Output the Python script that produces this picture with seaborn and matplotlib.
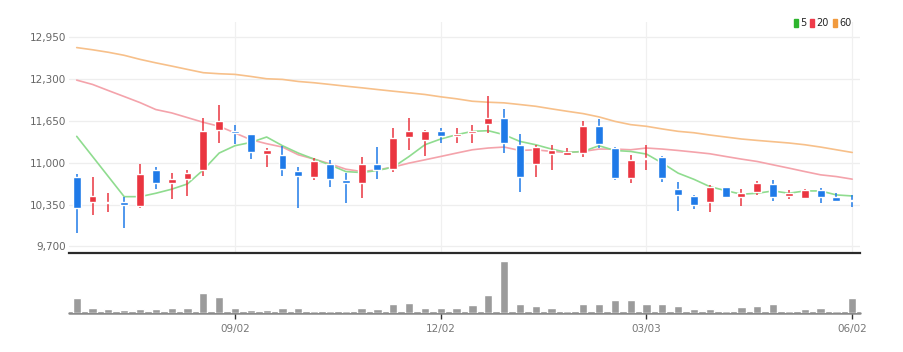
import numpy as np
import pandas as pd
import matplotlib
matplotlib.use('Agg')
import matplotlib.pyplot as plt
import seaborn as sns
from matplotlib.patches import Patch

# weekly candles, first week 2024-06-24
dates = pd.date_range('2024-06-24', periods=50, freq='7D')

opens = [10785, 10395, 10380, 10386, 10333, 10889, 10692, 10745, 10889, 11502,
         11497, 11440, 11134, 11123, 10879, 10785, 10983, 10734, 10692, 10978,
         10900, 11404, 11357, 11497, 11409, 11461, 11602, 11696, 11279, 10983,
         11139, 11123, 11150, 11565, 11228, 10770, 11056, 11088, 10589, 10489,
         10395, 10620, 10473, 10551, 10671, 10489, 10458, 10578, 10473, 10422]
highs = [10827, 10785, 10536, 10464, 10978, 10932, 10838, 10889, 11695, 11892,
         11591, 11451, 11228, 11264, 10932, 11072, 11045, 10838, 11081, 11243,
         11540, 11695, 11510, 11540, 11540, 11591, 12043, 11840, 11451, 11279,
         11279, 11228, 11642, 11680, 11243, 11123, 11279, 11097, 10707, 10500,
         10656, 10629, 10589, 10723, 10734, 10578, 10589, 10604, 10536, 10500]
lows = [9912, 10188, 10240, 9990, 10292, 10589, 10433, 10484, 10796, 11306,
        11295, 11056, 10932, 10796, 10292, 10734, 10629, 10380, 10448, 10745,
        10858, 11201, 11097, 11306, 11306, 11306, 11462, 11150, 10551, 10785,
        10889, 11097, 11087, 11228, 10734, 10682, 10889, 10707, 10255, 10277,
        10230, 10448, 10333, 10500, 10411, 10433, 10443, 10380, 10400, 10318]
closes = [10292, 10484, 10395, 10339, 10827, 10687, 10745, 10838, 11487, 11642,
          11455, 11159, 11190, 10900, 10796, 11034, 10749, 10692, 10983, 10889,
          11384, 11497, 11497, 11409, 11440, 11497, 11696, 11306, 10785, 11237,
          11190, 11159, 11565, 11290, 10770, 11045, 11072, 10760, 10500, 10344,
          10620, 10464, 10536, 10682, 10473, 10526, 10578, 10473, 10411, 10402]

# moving averages as drawn (history before first week not shown)
ma5 = [11409, 11097, 10785, 10473, 10473, 10526, 10589, 10671, 10889, 11150,
       11264, 11315, 11399, 11264, 11150, 11056, 10967, 10863, 10847, 10879,
       10932, 11097, 11279, 11368, 11435, 11487, 11497, 11435, 11331, 11279,
       11212, 11159, 11175, 11264, 11190, 11175, 11134, 10994, 10838, 10742,
       10629, 10567, 10511, 10526, 10562, 10526, 10562, 10562, 10500, 10484]
ma20 = [12282, 12215, 12120, 12027, 11933, 11825, 11773, 11700, 11627, 11565,
        11462, 11357, 11295, 11243, 11123, 11056, 10983, 10900, 10863, 10889,
        10932, 10994, 11045, 11097, 11150, 11201, 11228, 11243, 11190, 11201,
        11175, 11159, 11175, 11212, 11212, 11201, 11228, 11212, 11190, 11165,
        11139, 11097, 11056, 11019, 10967, 10916, 10863, 10812, 10785, 10745]
ma60 = [12787, 12753, 12714, 12667, 12604, 12550, 12500, 12448, 12397, 12381,
        12371, 12339, 12303, 12293, 12261, 12241, 12215, 12188, 12163, 12136,
        12110, 12085, 12059, 12023, 11992, 11954, 11939, 11929, 11903, 11876,
        11836, 11798, 11762, 11711, 11642, 11591, 11565, 11524, 11487, 11465,
        11430, 11399, 11368, 11346, 11326, 11306, 11279, 11243, 11201, 11159]

# volume (thousand shares)
volume = [156, 50, 40, 33, 40, 40, 57, 57, 200, 167,
          50, 33, 33, 50, 57, 27, 27, 27, 50, 40,
          90, 107, 57, 57, 50, 83, 183, 523, 90, 77,
          50, 27, 93, 93, 133, 133, 90, 90, 77, 43,
          43, 27, 60, 77, 90, 27, 43, 57, 27, 156]

tick_labels = ['09/02', '12/02', '03/03', '06/02']
yticks = [9700, 10350, 11000, 11650, 12300, 12950]

df = pd.DataFrame({'date': dates, 'open': opens, 'high': highs, 'low': lows,
                   'close': closes, 'ma5': ma5, 'ma20': ma20, 'ma60': ma60,
                   'volume': volume})
df['idx'] = np.arange(len(df))

UP, DOWN = '#ea3540', '#1f7ae8'
sns.set_theme(style='white')
plt.rcParams['font.family'] = ['Liberation Sans Narrow', 'DejaVu Sans']

fig = plt.figure(figsize=(9.04, 3.52), dpi=100)
ax = fig.add_axes([0.0761, 0.2813, 0.8754, 0.6562])
axv = fig.add_axes([0.0761, 0.11, 0.8754, 0.157])

tick_pos = [int(df.index[df['date'].dt.strftime('%m/%d') == t][0]) for t in tick_labels]

# price panel
ax.set_xlim(-0.5, len(df) - 0.5)
ax.set_ylim(9599, 13184)
for y in yticks:
    ax.axhline(y, color='#eeeeee', lw=0.9, zorder=0)
for x in tick_pos:
    ax.axvline(x, color='#f0f0f0', lw=0.9, zorder=0)

sns.lineplot(data=df, x='idx', y='ma60', ax=ax, color='#f7c08a', lw=1.2, zorder=2)
sns.lineplot(data=df, x='idx', y='ma20', ax=ax, color='#f4a3ab', lw=1.2, zorder=2)
sns.lineplot(data=df, x='idx', y='ma5', ax=ax, color='#8fdc8f', lw=1.2, zorder=2)

up = df['close'] >= df['open']
cols = np.where(up, UP, DOWN)
ax.vlines(df['idx'], df['low'], df['high'], colors=cols, lw=1.1, zorder=3)
body_lo = np.minimum(df['open'], df['close'])
body_h = np.maximum(np.abs(df['close'] - df['open']), 14)
ax.bar(df['idx'], body_h, bottom=body_lo, width=0.5, color=cols, zorder=4)

ax.set_yticks(yticks)
ax.set_yticklabels([f'{v:,}' for v in yticks])
ax.tick_params(axis='y', length=0, pad=2, labelsize=7.5, labelcolor='#666666')
ax.set_xticks([])
ax.set_xlabel('')
ax.set_ylabel('')
for s in ['top', 'left', 'right']:
    ax.spines[s].set_visible(False)
ax.spines['bottom'].set_color('#2a2a2a')
ax.spines['bottom'].set_linewidth(1.6)

# volume panel
axv.axhline(0, color='#8a8a8a', lw=1.8, zorder=1, clip_on=False)
sns.barplot(data=df, x='idx', y='volume', ax=axv, color='#9b9b9b',
            native_scale=True, width=0.52, saturation=1, zorder=2)
axv.set_xlim(-0.5, len(df) - 0.5)
axv.set_ylim(0, 553)
axv.set_yticks([])
axv.set_xticks(tick_pos)
axv.set_xticklabels(tick_labels)
axv.tick_params(axis='x', bottom=True, length=4, width=1, color='#333333',
                pad=4, labelsize=7.5, labelcolor='#777777')
axv.set_xlabel('')
axv.set_ylabel('')
for s in axv.spines.values():
    s.set_visible(False)

handles = [Patch(color='#2db52d', label='5'), Patch(color='#ef3b4a', label='20'),
           Patch(color='#f19a3e', label='60')]
fig.legend(handles=handles, loc='upper right', bbox_to_anchor=(0.948, 0.965),
           ncol=3, frameon=False, fontsize=7, handlelength=0.45, handleheight=0.9,
           handletextpad=0.2, columnspacing=0.4, borderpad=0.1)

fig.savefig('out.png', dpi=100)
